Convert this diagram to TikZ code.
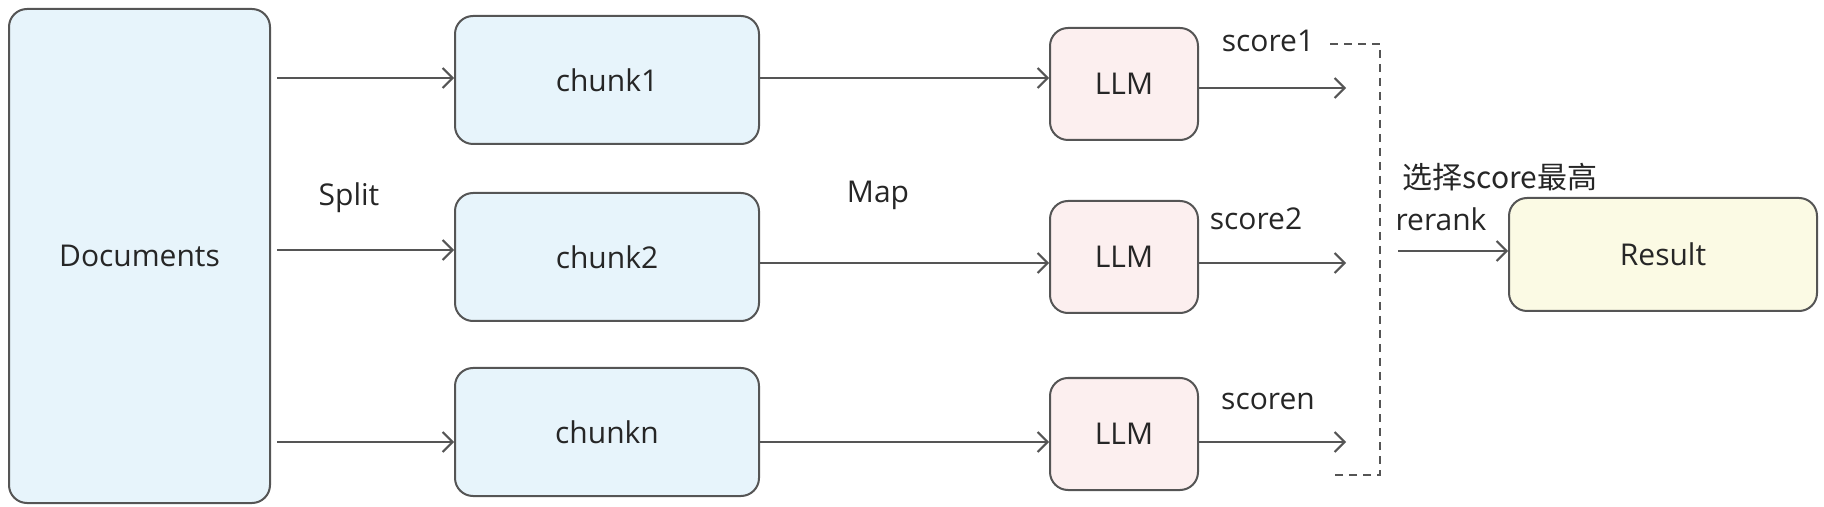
\documentclass[tikz,border=0pt]{standalone}
\usepackage{fontspec}
\setmainfont{Open Sans}
\newfontfamily\cjk{Noto Sans CJK SC}
\usetikzlibrary{arrows.meta}
\definecolor{chunkblue}{HTML}{E7F4FB}
\definecolor{llmpink}{HTML}{FCEFEF}
\definecolor{resyellow}{HTML}{FBFAE4}
\definecolor{edge}{HTML}{555555}
\tikzset{
  box/.style={draw=edge, line width=1pt, rounded corners=9pt, inner sep=0pt,
    font=\fontsize{15}{17}\selectfont, text=black!85},
  flow/.style={draw=edge, line width=1pt, -{Straight Barb[length=5pt,width=10pt]}},
  lbl/.style={font=\fontsize{15}{17}\selectfont, text=black!85},
}

\begin{document}
\begin{tikzpicture}[x=0.5pt, y=-0.5pt]
  \useasboundingbox (0,0) rectangle (1824,507);

  \node[box, fill=chunkblue, minimum width=130.5pt, minimum height=247pt] (docs) at (139.5,256) {Documents};
  \node[box, fill=resyellow, minimum width=154pt, minimum height=56.5pt] (res) at (1663,254.5) {Result};

  % one row per chunk
  \foreach \i/\y/\ly/\ay/\by/\cy/\t in {1/80/84/78/78/88/chunk1, 2/257/257/250/263/263/chunk2, 3/432/434/442/442/442/chunkn} {
    \node[box, fill=chunkblue, minimum width=152pt, minimum height=64pt] (ck\i) at (607,\y) {\t};
    \node[box, fill=llmpink, minimum width=74pt, minimum height=56pt] (llm\i) at (1124,\ly) {LLM};
    \coordinate (a\i) at (0,\ay);
    \coordinate (b\i) at (0,\by);
    \coordinate (s\i) at (1346,\cy);
    \draw[flow] ([xshift=3pt]docs.east |- a\i) -- (ck\i.west |- a\i);
    \draw[flow] (ck\i.east |- b\i) -- (llm\i.west |- b\i);
    \draw[flow] (llm\i.east |- s\i) -- (s\i);
  }

  \node[lbl] (sc1) at (1268,41) {score1};
  \node[lbl] (sc2) at (1256,219) {score2};
  \node[lbl] (sc3) at (1268,401) {scoren};
  \node[lbl] (split) at (349,198) {Split};
  \node[lbl] (map) at (878,195) {Map};

  \coordinate (bt) at (1330,44);
  \coordinate (bb) at (1330,475);
  \draw[edge, line width=0.8pt, dash pattern=on 4pt off 3pt] (bt) -| (1380,475) -- (bb);

  \coordinate (rk) at (1398,251);
  \draw[flow] (rk) -- (res.west |- rk);
  \node[lbl] (pick) at (1500,177) {\cjk 选择score最高};
  \node[lbl] (rerank) at (1441,219) {rerank};
\end{tikzpicture}
\end{document}
